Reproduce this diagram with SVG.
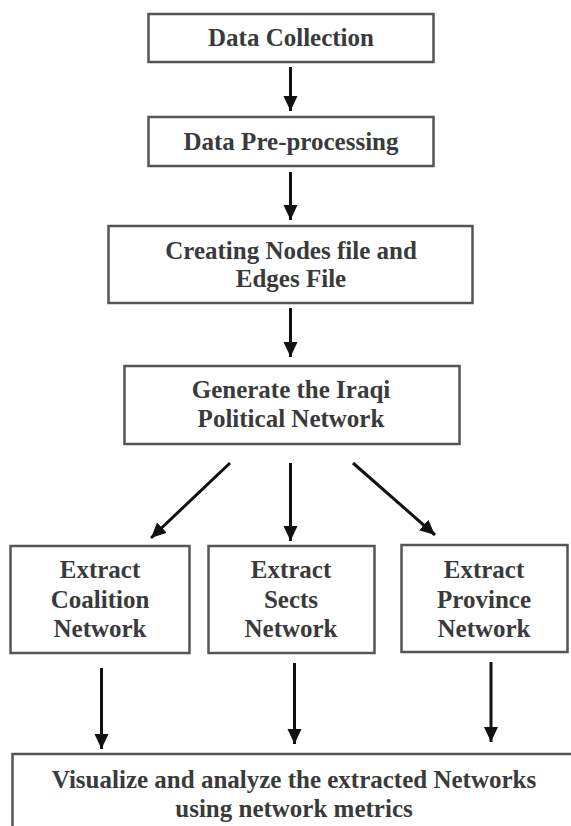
<svg xmlns="http://www.w3.org/2000/svg" width="571" height="826" viewBox="0 0 571 826">
<style>
.box{fill:#fff;stroke:#555;stroke-width:2.5}
.t{font-weight:bold;font-size:25px;fill:#3a3a3a;text-anchor:middle}
.c{stroke:#111;stroke-width:3;fill:none;marker-end:url(#ah)}
</style>
<defs>
<marker id="ah" markerUnits="userSpaceOnUse" markerWidth="16" markerHeight="16" refX="15" refY="7" orient="auto">
<path d="M0,0 L15,7 L0,14 Z" fill="#111"/>
</marker>
</defs>
<rect width="571" height="826" fill="#fff"/>
<g font-family="Liberation Serif, Times New Roman, DejaVu Serif, serif">
<g id="n1"><rect class="box" x="148.5" y="14" width="285" height="48"/><text class="t" x="291" y="46">Data Collection</text></g>
<g id="n2"><rect class="box" x="148.5" y="117" width="285" height="49"/><text class="t" x="291" y="150">Data Pre-processing</text></g>
<g id="n3"><rect class="box" x="108.5" y="226" width="364" height="77"/><text class="t" x="291" y="259">Creating Nodes file and</text><text class="t" x="291" y="287">Edges File</text></g>
<g id="n4"><rect class="box" x="124.5" y="366" width="335" height="78"/><text class="t" x="291" y="398">Generate the Iraqi</text><text class="t" x="291" y="427">Political Network</text></g>
<g id="n5"><rect class="box" x="10.5" y="546" width="179" height="107"/><text class="t" x="100" y="578">Extract</text><text class="t" x="100" y="608">Coalition</text><text class="t" x="100" y="637">Network</text></g>
<g id="n6"><rect class="box" x="208.5" y="546" width="166" height="107"/><text class="t" x="291" y="578">Extract</text><text class="t" x="291" y="608">Sects</text><text class="t" x="291" y="637">Network</text></g>
<g id="n7"><rect class="box" x="401.5" y="545" width="166" height="107"/><text class="t" x="484" y="578">Extract</text><text class="t" x="484" y="608">Province</text><text class="t" x="484" y="637">Network</text></g>
<g id="n8"><rect class="box" x="12.5" y="754" width="580" height="100"/><text class="t" x="294" y="788">Visualize and analyze the extracted Networks</text><text class="t" x="294" y="817">using network metrics</text></g>
</g>
<g id="connectors">
<line class="c" x1="290.5" y1="67" x2="290.5" y2="111"/>
<line class="c" x1="290.5" y1="172" x2="290.5" y2="220"/>
<line class="c" x1="290.5" y1="308" x2="290.5" y2="357"/>
<line class="c" x1="230" y1="463" x2="151" y2="538"/>
<line class="c" x1="290.5" y1="463" x2="290.5" y2="541"/>
<line class="c" x1="353" y1="463" x2="435" y2="535"/>
<line class="c" x1="101.5" y1="668" x2="101.5" y2="749"/>
<line class="c" x1="294.5" y1="663" x2="294.5" y2="744"/>
<line class="c" x1="491" y1="662" x2="491" y2="742"/>
</g>
</svg>
